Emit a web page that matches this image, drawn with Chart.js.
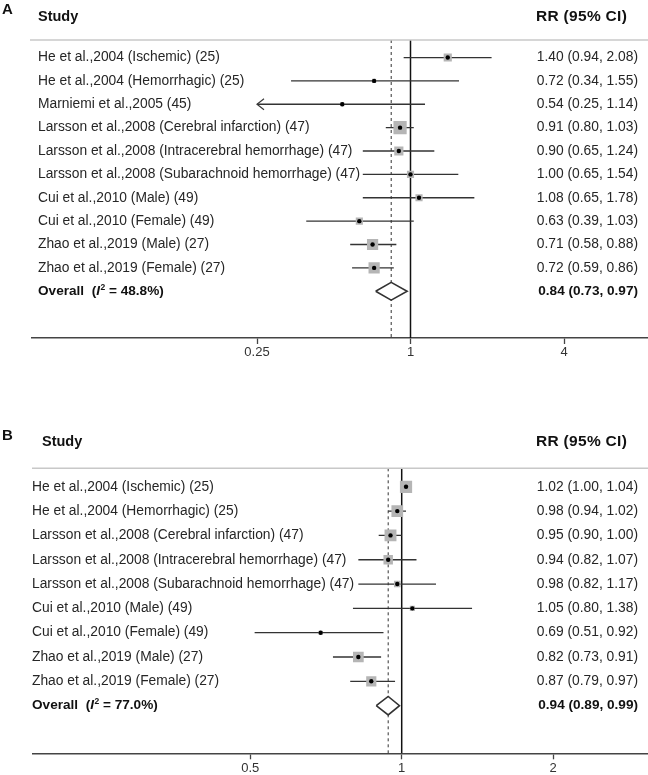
<!DOCTYPE html>
<html lang="en">
<head>
<meta charset="UTF-8">
<title>Forest plots</title>
<script src="https://cdn.jsdelivr.net/npm/chart.js"></script>
<style>
    body { margin: 0; background: #fff; overflow: hidden; }
    .panel { position: absolute; left: 0; width: 660px; }
    #panelA { top: 0; }
    #panelB { top: 380px; }
</style>
</head>
<body>
<div class="panel" id="panelA"><canvas id="chartA" width="660" height="380"></canvas></div>
<div class="panel" id="panelB"><canvas id="chartB" width="660" height="395"></canvas></div>
<script>
// Panel A data
const studiesA = [
    'He et al.,2004 (Ischemic) (25)',
    'He et al.,2004 (Hemorrhagic) (25)',
    'Marniemi et al.,2005 (45)',
    'Larsson et al.,2008 (Cerebral infarction) (47)',
    'Larsson et al.,2008 (Intracerebral hemorrhage) (47)',
    'Larsson et al.,2008 (Subarachnoid hemorrhage) (47)',
    'Cui et al.,2010 (Male) (49)',
    'Cui et al.,2010 (Female) (49)',
    'Zhao et al.,2019 (Male) (27)',
    'Zhao et al.,2019 (Female) (27)'
];
const rrA = [1.40, 0.72, 0.54, 0.91, 0.90, 1.00, 1.08, 0.63, 0.71, 0.72];
const lowA = [0.94, 0.34, 0.25, 0.80, 0.65, 0.65, 0.65, 0.39, 0.58, 0.59];
const highA = [2.08, 1.55, 1.14, 1.03, 1.24, 1.54, 1.78, 1.03, 0.88, 0.86];
const weightA = [8.5, 2.1, 2.1, 22.3, 10.7, 6.5, 6.5, 6.5, 16.0, 16.0];
const overallA = [0.84, 0.73, 0.97];
const i2A = '48.8%';
const ticksA = [0.25, 1, 4];

// Panel B data
const studiesB = [
    'He et al.,2004 (Ischemic) (25)',
    'He et al.,2004 (Hemorrhagic) (25)',
    'Larsson et al.,2008 (Cerebral infarction) (47)',
    'Larsson et al.,2008 (Intracerebral hemorrhage) (47)',
    'Larsson et al.,2008 (Subarachnoid hemorrhage) (47)',
    'Cui et al.,2010 (Male) (49)',
    'Cui et al.,2010 (Female) (49)',
    'Zhao et al.,2019 (Male) (27)',
    'Zhao et al.,2019 (Female) (27)'
];
const rrB = [1.02, 0.98, 0.95, 0.94, 0.98, 1.05, 0.69, 0.82, 0.87];
const lowB = [1.00, 0.94, 0.90, 0.82, 0.82, 0.80, 0.51, 0.73, 0.79];
const highB = [1.04, 1.02, 1.00, 1.07, 1.17, 1.38, 0.92, 0.91, 0.97];
const weightB = [19.0, 17.5, 18.1, 11.4, 5.6, 3.3, 2.1, 14.6, 13.2];
const overallB = [0.94, 0.89, 0.99];
const i2B = '77.0%';
const ticksB = [0.5, 1, 2];

const FONT = "'Liberation Sans', Arial, Helvetica, sans-serif";
const TEXT = '#262626';

function ci(e, l, h) {
    return e.toFixed(2) + ' (' + l.toFixed(2) + ', ' + h.toFixed(2) + ')';
}

// text columns, headers, separator and arrow heads
const forestText = {
    id: 'forestText',
    afterDatasetsDraw(chart, args, o) {
        const ctx = chart.ctx, x = chart.scales.x, y = chart.scales.y;
        ctx.save();
        ctx.strokeStyle = '#3a3a3a';
        ctx.lineWidth = 1.2;
        o.low.forEach((l, i) => {
            if (l > o.ticks[0]) return;
            const px = x.getPixelForValue(l), py = y.getPixelForValue(i);
            ctx.beginPath();
            ctx.moveTo(px + 7, py - 5.5);
            ctx.lineTo(px, py);
            ctx.lineTo(px + 7, py + 5.5);
            ctx.stroke();
        });
        ctx.restore();
    },
    afterDraw(chart, args, o) {
        const ctx = chart.ctx, y = chart.scales.y;
        const top = chart.chartArea.top;
        ctx.save();
        // separator under the header
        ctx.strokeStyle = '#c8c8c8';
        ctx.lineWidth = 1.5;
        ctx.beginPath();
        ctx.moveTo(o.sepX, top);
        ctx.lineTo(chart.width, top);
        ctx.stroke();

        ctx.fillStyle = '#111';
        ctx.textBaseline = 'alphabetic';
        ctx.font = 'bold 15px ' + FONT;
        ctx.fillText(o.letter, 2, o.letterY);
        ctx.font = 'bold 14.5px ' + FONT;
        ctx.fillText('Study', o.headX, o.headY);
        ctx.font = 'bold 15.5px ' + FONT;
        ctx.letterSpacing = '0.3px';
        ctx.fillText('RR (95% CI)', 536, o.headY);
        ctx.letterSpacing = '0px';

        ctx.fillStyle = TEXT;
        ctx.textBaseline = 'middle';
        ctx.font = '13.8px ' + FONT;
        o.studies.forEach((s, i) => {
            const py = y.getPixelForValue(i);
            ctx.textAlign = 'left';
            ctx.fillText(s, o.labelX, py);
            ctx.textAlign = 'right';
            ctx.fillText(ci(o.rr[i], o.low[i], o.high[i]), 638, py);
        });

        // overall row
        const oy = y.getPixelForValue(o.studies.length);
        ctx.fillStyle = '#111';
        ctx.textAlign = 'right';
        ctx.font = 'bold 13.6px ' + FONT;
        ctx.fillText(ci(o.overall[0], o.overall[1], o.overall[2]), 638, oy);
        ctx.textAlign = 'left';
        let cx = o.labelX;
        ctx.fillText('Overall  (', cx, oy);
        cx += ctx.measureText('Overall  (').width;
        ctx.font = 'italic bold 13.6px ' + FONT;
        ctx.fillText('I', cx, oy);
        cx += ctx.measureText('I').width + 0.5;
        ctx.font = 'bold 8.5px ' + FONT;
        ctx.fillText('2', cx, oy - 4);
        cx += ctx.measureText('2').width;
        ctx.font = 'bold 13.6px ' + FONT;
        ctx.fillText(' = ' + o.i2 + ')', cx, oy);
        ctx.restore();
    }
};

function makeForest(id, d) {
    const n = d.studies.length;
    const idx = d.studies.map((_, i) => i);
    const datasets = [];

    // centre dots
    datasets.push({
        data: idx.map(i => ({ x: d.rr[i], y: i })),
        pointRadius: 2.2, pointBackgroundColor: '#000', pointBorderWidth: 0
    });
    // weight squares (area ~ weight)
    datasets.push({
        data: idx.map(i => ({ x: d.rr[i], y: i })),
        pointStyle: 'rect',
        pointRadius: idx.map(i => 2.8 * Math.sqrt(d.weight[i]) / Math.SQRT2),
        pointBackgroundColor: '#b5b5b5', pointBorderWidth: 0
    });
    // overall diamond
    const [oe, ol, oh] = d.overall;
    datasets.push({
        data: [
            { x: ol, y: n }, { x: oe, y: n - 0.38 }, { x: oh, y: n },
            { x: oe, y: n + 0.38 }, { x: ol, y: n }
        ],
        showLine: true, pointRadius: 0, borderColor: '#333', borderWidth: 1.6,
        backgroundColor: '#fff', fill: 'shape'
    });
    // confidence intervals
    idx.forEach(i => {
        datasets.push({
            data: [{ x: d.low[i], y: i }, { x: d.high[i], y: i }],
            showLine: true, pointRadius: 0, borderColor: '#333', borderWidth: 1.3
        });
    });
    // dashed line at overall estimate, solid line at 1
    datasets.push({
        data: [{ x: oe, y: d.yMin }, { x: oe, y: d.yMax }],
        showLine: true, pointRadius: 0, borderColor: '#333', borderWidth: 1,
        borderDash: [3, 3]
    });
    datasets.push({
        data: [{ x: 1, y: d.yMin }, { x: 1, y: d.yMax }],
        showLine: true, pointRadius: 0, borderColor: '#111', borderWidth: 1.5
    });

    const chart = new Chart(document.getElementById(id), {
        type: 'scatter',
        data: { datasets },
        options: {
            responsive: false,
            animation: false,
            layout: { padding: { left: d.left, right: 0, top: d.top, bottom: 0 } },
            plugins: {
                legend: { display: false },
                tooltip: { enabled: false },
                forestText: {
                    letter: d.letter, letterY: d.letterY, headX: d.headX, headY: d.headY,
                    labelX: d.labelX, sepX: d.sepX, studies: d.studies, rr: d.rr,
                    low: d.low, high: d.high, overall: d.overall, i2: d.i2, ticks: d.ticks
                }
            },
            scales: {
                x: {
                    type: 'logarithmic',
                    min: 0.1, max: 10,
                    afterBuildTicks: s => { s.ticks = d.ticks.map(v => ({ value: v })); },
                    afterFit: s => { s.height = d.axisH; },
                    ticks: {
                        callback: v => String(v),
                        autoSkip: false, maxRotation: 0, padding: 1,
                        color: '#333', font: { family: FONT, size: 13 }
                    },
                    grid: { drawOnChartArea: false, drawTicks: true, tickLength: 6, tickWidth: 1.3, tickColor: '#444' },
                    border: { color: '#444', width: 1.5 }
                },
                y: {
                    type: 'linear', reverse: true, display: false,
                    min: d.yMin, max: d.yMax
                }
            }
        },
        plugins: [forestText]
    });

    // set the log range so that RR = 1 sits at d.one and a doubling spans d.step px
    const a = chart.chartArea;
    chart.options.scales.x.min = Math.pow(2, (a.left - d.one) / d.step);
    chart.options.scales.x.max = Math.pow(2, (a.right - d.one) / d.step);
    chart.update();
    return chart;
}

makeForest('chartA', {
    letter: 'A', letterY: 13.5, headX: 38, headY: 21, labelX: 38, sepX: 30,
    studies: studiesA, rr: rrA, low: lowA, high: highA, weight: weightA,
    overall: overallA, i2: i2A, ticks: ticksA,
    one: 410.5, step: 76.75, yMin: -0.75, yMax: 12.0,
    left: 32, top: 40, axisH: 42
});

makeForest('chartB', {
    letter: 'B', letterY: 60, headX: 42, headY: 66, labelX: 32, sepX: 32,
    studies: studiesB, rr: rrB, low: lowB, high: highB, weight: weightB,
    overall: overallB, i2: i2B, ticks: ticksB,
    one: 401.7, step: 151.4, yMin: -0.76, yMax: 10.96,
    left: 33, top: 88.3, axisH: 21.7
});
</script>
</body>
</html>
